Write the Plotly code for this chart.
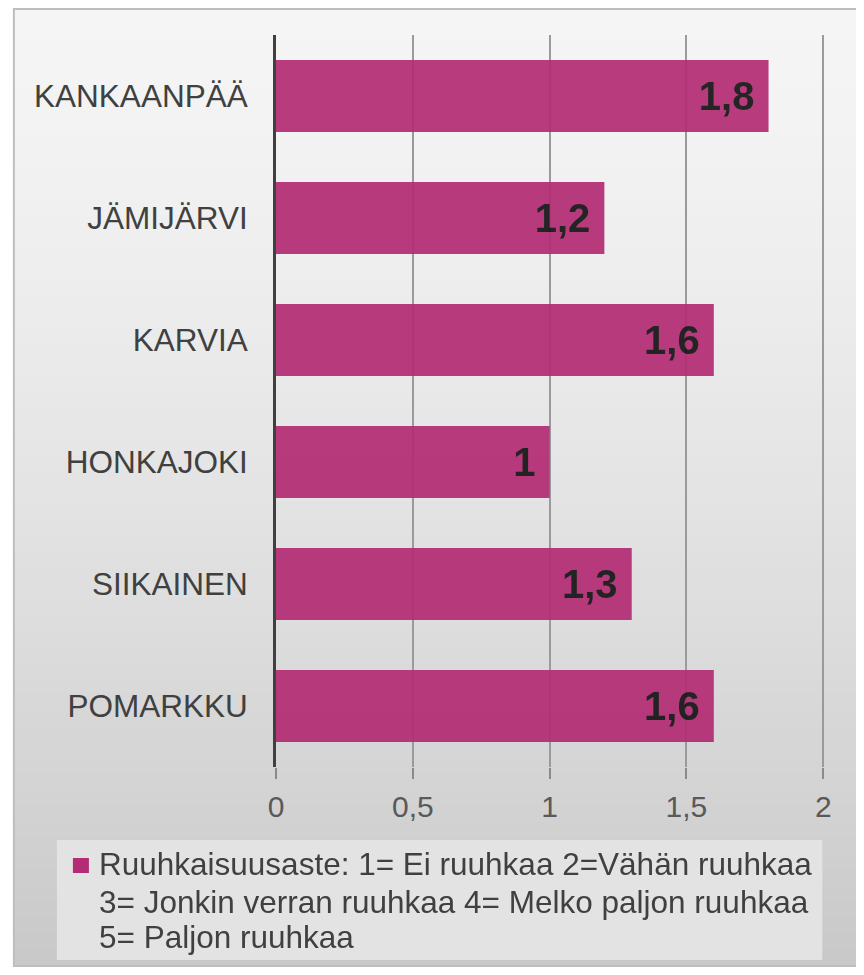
import plotly.graph_objects as go

municipalities = ["KANKAANPÄÄ", "JÄMIJÄRVI", "KARVIA", "HONKAJOKI", "SIIKAINEN", "POMARKKU"]
congestion = [1.8, 1.2, 1.6, 1.0, 1.3, 1.6]
x_ticks = [0, 0.5, 1, 1.5, 2]
x_tick_labels = ["0", "0,5", "1", "1,5", "2"]
series_name = "Ruuhkaisuusaste: 1= Ei ruuhkaa 2=Vähän ruuhkaa"
legend_lines = [series_name,
                "3= Jonkin verran ruuhkaa 4= Melko paljon ruuhkaa",
                "5= Paljon ruuhkaa"]

FONT = "Liberation Sans, Arial, sans-serif"
BAR = "#B32D74"
OFF = 8  # page body margin
W, H = 864 - OFF, 975 - OFF
XMAX = 2.01
# plot area in screen pixels (x=0 at 276, x=2 at 823)
PX0, PY0, PY1 = 276, 35, 767
PX1 = PX0 + (823 - PX0) * XMAX / 2
L, R = PX0 - OFF, W - (PX1 - OFF)
T, B = PY0 - OFF, H - (PY1 - OFF)
pw, ph = PX1 - PX0, PY1 - PY0


def px_x(p):
    return (p - PX0) / pw


def px_y(p):
    return (PY1 - p) / ph


labels = [("%g" % v).replace(".", ",") + "\u00a0" for v in congestion]

fig = go.Figure()
fig.add_trace(go.Bar(
    y=municipalities, x=congestion, orientation="h", name=series_name,
    marker=dict(color=BAR, line=dict(width=0)), opacity=0.93,
    text=labels, textposition="inside", insidetextanchor="end", textangle=0,
    textfont=dict(family=FONT, size=40, color="#151515", weight="bold"),
    showlegend=False,
))

# background gradient inside the chart frame
x0, x1 = px_x(14), px_x(859)
top, bot = OFF, 966
n = 60
c_top, c_bot = 245, 200
shapes = []
for i in range(n):
    ya = top + (bot - top) * i / n
    yb = top + (bot - top) * (i + 1) / n
    t = (i + 0.5) / n
    c = round(c_top + (c_bot - c_top) * t ** 1.4)
    shapes.append(dict(type="rect", xref="paper", yref="paper", layer="below",
                       x0=x0, x1=x1, y0=px_y(yb) - 0.001, y1=px_y(ya) + 0.001,
                       fillcolor=f"rgb({c},{c},{c})", line=dict(width=0)))
shapes.append(dict(type="rect", xref="paper", yref="paper", layer="below",
                   x0=x0, x1=x1, y0=px_y(bot), y1=px_y(top + 1),
                   fillcolor="rgba(0,0,0,0)", line=dict(color="#BEBEBE", width=2)))

# legend box drawn by hand (tighter line spacing than plotly's legend)
shapes.append(dict(type="rect", xref="paper", yref="paper", layer="above",
                   x0=px_x(57), x1=px_x(822), y0=px_y(960), y1=px_y(840),
                   fillcolor="#E3E3E3", line=dict(width=0)))
shapes.append(dict(type="rect", xref="paper", yref="paper", layer="above",
                   x0=px_x(73), x1=px_x(89), y0=px_y(873), y1=px_y(858),
                   fillcolor=BAR, line=dict(width=0)))
annotations = []
for line, yc in zip(legend_lines, [864, 902, 937]):
    annotations.append(dict(text=line, xref="paper", yref="paper",
                            x=px_x(97), y=px_y(yc), xanchor="left", yanchor="middle",
                            showarrow=False,
                            font=dict(family=FONT, size=31.5, color="#404040")))

fig.update_layout(
    width=W, height=H,
    margin=dict(l=L, r=R, t=T, b=B, autoexpand=False),
    paper_bgcolor="white", plot_bgcolor="rgba(0,0,0,0)",
    separators=", ",
    font=dict(family=FONT, color="#404040"),
    bargap=0.41,
    shapes=shapes,
    annotations=annotations,
    showlegend=False,
)
fig.update_yaxes(autorange="reversed", showgrid=False, showline=True,
                 linecolor="#404040", linewidth=3, ticks="", ticklabelstandoff=19,
                 tickfont=dict(family=FONT, size=31.5, color="#404040"))
fig.update_xaxes(range=[0, XMAX], tickvals=x_ticks, ticktext=x_tick_labels,
                 showgrid=True, gridcolor="#9A9A9A", gridwidth=1.5,
                 zeroline=False, showline=False, ticks="outside", ticklen=11,
                 tickcolor="#8A8A8A", tickwidth=1.5, ticklabelstandoff=2,
                 tickfont=dict(family=FONT, size=30, color="#595959"))

fig.write_html("out.html")
